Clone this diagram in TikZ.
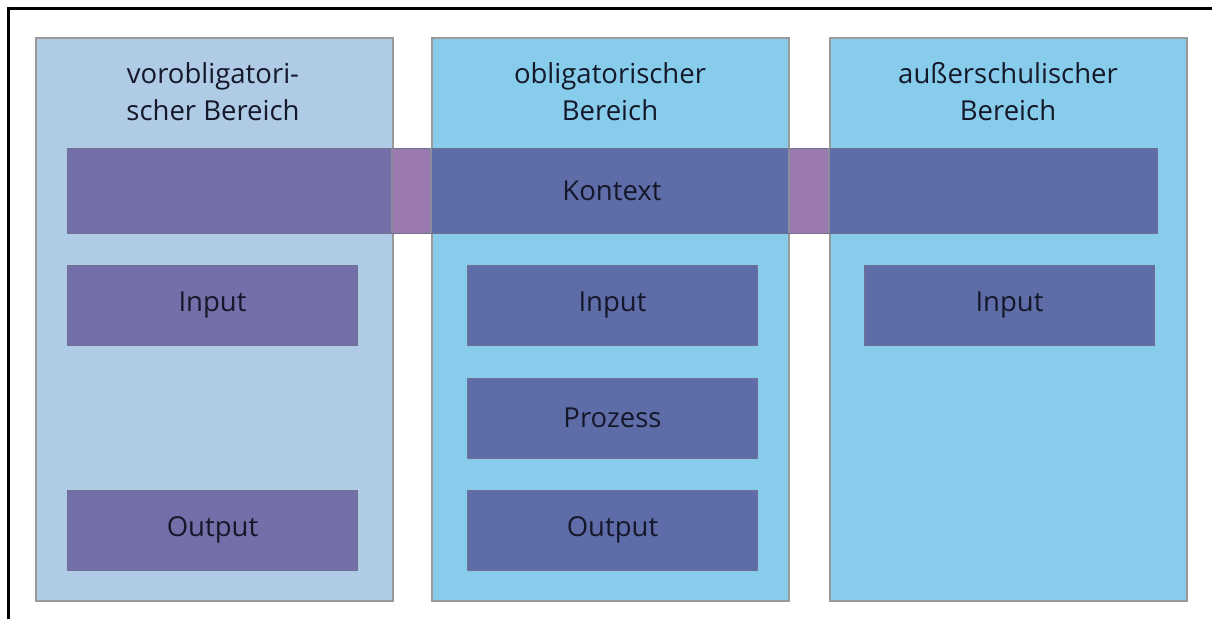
\documentclass[tikz,border=0pt]{standalone}
\usepackage{fontspec}
\setmainfont{Open Sans}
\definecolor{colA}{HTML}{AFCBE6}
\definecolor{colB}{HTML}{87CDEB}
\definecolor{ovA}{HTML}{736FA8}
\definecolor{ovB}{HTML}{5E6CA8}
\definecolor{ovW}{HTML}{9A7AAF}
\definecolor{colborder}{HTML}{9A9A9A}
\definecolor{boxborder}{HTML}{707090}
\definecolor{txt}{HTML}{15182A}
\tikzset{
  column/.style={draw=colborder, line width=2pt, minimum width=357pt, minimum height=563pt, anchor=north west, inner sep=0pt},
  heading/.style={text=txt, font=\fontsize{27.5}{37}\selectfont, align=center, inner sep=0pt},
  boxA/.style={draw=boxborder, line width=1pt, fill=ovA, minimum width=290pt, minimum height=80pt, text=txt, font=\fontsize{27.5}{33}\selectfont, inner sep=0pt},
  boxB/.style={boxA, fill=ovB},
}
\begin{document}
\begin{tikzpicture}[x=1pt,y=-1pt]
\useasboundingbox (0,0) rectangle (1212,619);
\fill[white] (0,0) rectangle (1212,619);
% frame
\draw[line width=3pt, black] (8,619) -- (8,8) -- (1212,8);
% columns
\node[column, fill=colA] (c1) at (35,37) {};
\node[column, fill=colB] (c2) at (431,37) {};
\node[column, fill=colB] (c3) at (829,37) {};
% headings
\node[heading] (h1) at (213,92) {vorobligatori-\\scher Bereich};
\node[heading] (h2) at (610,92) {obligatorischer\\Bereich};
\node[heading] (h3) at (1008,92) {außerschulischer\\Bereich};
% context band
\fill[ovB] (67,148) rectangle (1157,233);
\fill[ovA] (67,148) rectangle (392,233);
\fill[ovW] (392,148) rectangle (431,233);
\fill[ovW] (789,148) rectangle (829,233);
\node[draw=boxborder, line width=1pt, minimum width=1090pt, minimum height=85pt, inner sep=0pt, text=txt, font=\fontsize{27.5}{33}\selectfont] (ctx) at (612,190.5) {Kontext};
% column borders through band
\draw[colborder!70!ovB, line width=2pt] (392,148) -- (392,233) (431,148) -- (431,233) (789,148) -- (789,233) (829,148) -- (829,233);
% boxes
\node[boxA] (in1) at (212.5,305) {Input};
\node[boxA] (out1) at (212.5,530) {Output};
\node[boxB] (in2) at (612.5,305) {Input};
\node[boxB] (pro2) at (612.5,418) {Prozess};
\node[boxB] (out2) at (612.5,530) {Output};
\node[boxB] (in3) at (1009.5,305) {Input};
\end{tikzpicture}
\end{document}
